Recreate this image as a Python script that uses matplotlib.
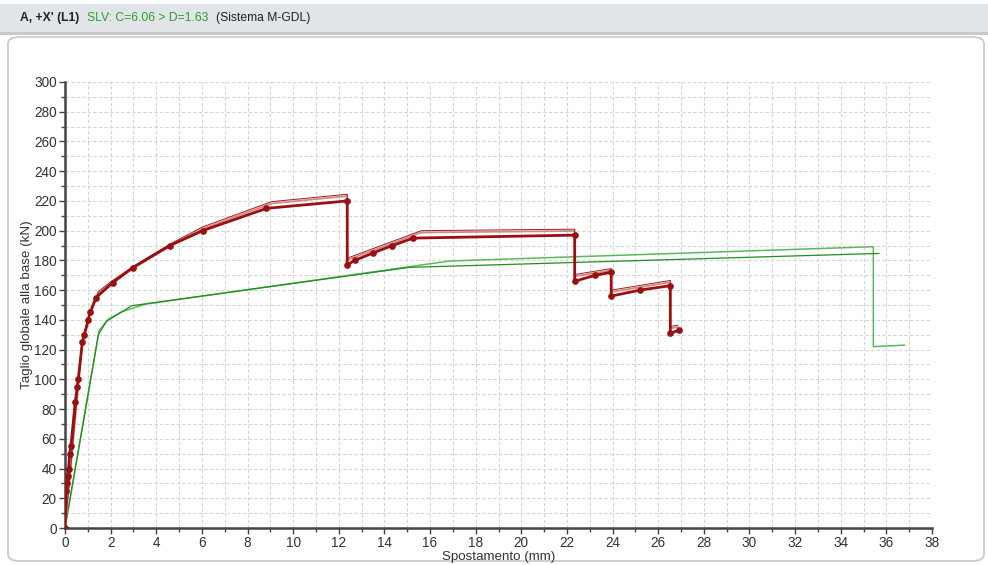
import matplotlib
matplotlib.use("Agg")
import matplotlib.pyplot as plt
from matplotlib.patches import Rectangle, FancyBboxPatch
from matplotlib.ticker import MultipleLocator
import matplotlib.transforms as mtransforms

# --- DATA ---
# main pushover curve (thick, with markers)
main_x = [0, 0.05, 0.09, 0.13, 0.16, 0.2, 0.26, 0.45, 0.54, 0.58, 0.76, 0.85, 1.02, 1.1,
          1.36, 2.09, 2.96, 4.6, 6.03, 8.83, 12.37, 12.37, 12.7, 13.5, 14.35, 15.26,
          22.34, 22.34, 23.24, 23.94, 23.94, 25.19, 26.53, 26.53, 26.91]
main_y = [0, 25, 30, 35, 40, 50, 55, 85, 95, 100, 125, 130, 140, 145,
          155, 165, 175, 190, 200, 215, 220, 177, 180, 185, 190, 195,
          197, 166, 170, 172, 156, 160, 163, 131, 133]

# thin red envelope above the main curve
upper_x = [0, 0.76, 1.02, 1.46, 2.04, 2.99, 4.6, 6.03, 9.05, 12.37, 12.37, 15.62,
           22.34, 22.34, 23.94, 23.94, 26.53, 26.53, 26.86]
upper_y = [0, 126, 142, 159, 166, 176, 191, 202.5, 219.5, 224.5, 181.5, 200,
           201, 170.5, 174.5, 160, 166.5, 135.5, 136.5]

# green curves
green_dark_x = [0, 1.46, 1.82, 2.92, 15.1, 35.67]
green_dark_y = [0, 130, 139, 149.5, 175.3, 184.7]
green_light_x = [0, 1.5, 1.9, 2.5, 3.5, 16.86, 35.43, 35.43, 36.8]
green_light_y = [0, 133, 140.5, 145.5, 150.5, 179.6, 189.2, 122, 123]

x_ticks = list(range(0, 39, 2))
y_ticks = list(range(0, 301, 20))

# --- FIGURE ---
W, H = 988, 565
fig = plt.figure(figsize=(W / 100, H / 100), dpi=100)
plt.rcParams['font.family'] = ['Liberation Sans', 'DejaVu Sans']

def fx(px):
    return px / W

def fy(py):
    return 1 - py / H

# header band
fig.patches.append(Rectangle((0, fy(33)), 1, fy(4) - fy(33), transform=fig.transFigure,
                             facecolor='#e2e5e8', edgecolor='none', zorder=-2))
fig.patches.append(Rectangle((0, fy(35)), 1, fy(32) - fy(35), transform=fig.transFigure,
                             facecolor='#c8c8c8', edgecolor='none', zorder=-2))
# panel with rounded corners
fig.patches.append(FancyBboxPatch((fx(8), fy(561)), fx(984) - fx(8), fy(37) - fy(561),
                                  boxstyle="round,pad=0,rounding_size=0.012",
                                  transform=fig.transFigure, facecolor='white',
                                  edgecolor='#c8c8c8', linewidth=1.2, zorder=-1))

fig.text(fx(20), fy(18), "A, +X' (L1)", fontsize=8.7, fontweight='bold', color='#222222',
         va='center', ha='left')
fig.text(fx(87), fy(18), "SLV: C=6.06 > D=1.63", fontsize=8.7, color='#2e9e2e',
         va='center', ha='left')
fig.text(fx(216), fy(18), "(Sistema M-GDL)", fontsize=8.7, color='#222222',
         va='center', ha='left')

ax = fig.add_axes([fx(65), fy(528), fx(932) - fx(65), fy(82) - fy(528)])
ax.set_zorder(2)
ax.set_facecolor('white')

# curves
ax.plot(green_light_x, green_light_y, color='#5cb85c', lw=1.1, zorder=3)
ax.plot(green_dark_x, green_dark_y, color='#1f8f1f', lw=0.9, zorder=3)

shift = mtransforms.offset_copy(ax.transData, fig=fig, x=0, y=-1.3, units='points')
ax.plot(upper_x, upper_y, color='#d08a8a', lw=1.3, transform=shift, zorder=4)
ax.plot(upper_x, upper_y, color='#9a2020', lw=0.7, zorder=4)

ax.plot(main_x, main_y, color='#9a1010', lw=2.0, marker='o', markersize=3.8,
        markerfacecolor='#9a1010', markeredgecolor='#9a1010', zorder=5)

ax.set_xlim(0, 38)
ax.set_ylim(0, 300)
ax.set_xticks(x_ticks)
ax.set_yticks(y_ticks)
ax.xaxis.set_minor_locator(MultipleLocator(1))
ax.yaxis.set_minor_locator(MultipleLocator(10))

ax.grid(True, which='both', color='#d4d4d4', linestyle=(0, (3, 2)), linewidth=0.8)
ax.set_axisbelow(True)

for side in ['top', 'right']:
    ax.spines[side].set_visible(False)
for side in ['left', 'bottom']:
    ax.spines[side].set_color('#444444')
    ax.spines[side].set_linewidth(1.8)

ax.tick_params(which='major', direction='out', length=4, width=1, color='#444444',
               labelsize=9.8, labelcolor='#333333', pad=2)
ax.tick_params(which='minor', direction='out', length=3, width=1, color='#444444')

ax.set_xlabel('Spostamento (mm)', fontsize=9.6, color='#333333')
ax.set_ylabel('Taglio globale alla base (kN)', fontsize=9.6, color='#333333')
ax.xaxis.set_label_coords(0.5, -0.066)
ax.yaxis.set_label_coords(-0.0438, 0.5)
ax.xaxis.label.set_va('center')
ax.yaxis.label.set_va('center')

fig.savefig('out.png', dpi=100)
